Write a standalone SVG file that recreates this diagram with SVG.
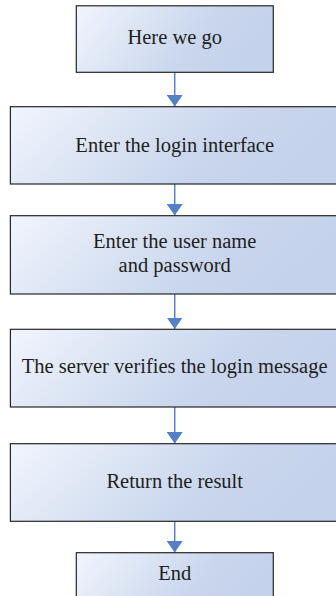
<svg xmlns="http://www.w3.org/2000/svg" width="336" height="596" viewBox="0 0 336 596">
<defs>
<linearGradient id="g" x1="0" y1="0" x2="1" y2="0.25">
<stop offset="0" stop-color="#f1f5fd"/>
<stop offset="0.7" stop-color="#c9d6ed"/>
<stop offset="1" stop-color="#c4d2eb"/>
</linearGradient>
<marker id="ah" markerUnits="userSpaceOnUse" markerWidth="11.5" markerHeight="16" refX="11.5" refY="8" orient="auto">
<path d="M0,0 L11.5,8 L0,16 Z" fill="#5580c6"/>
</marker>
<style>
.box{fill:url(#g);stroke:#262626;stroke-width:1.2}
.t{font-family:"Liberation Serif","Times New Roman",serif;font-size:20.5px;fill:#1e1e1e;text-anchor:middle}
.c{stroke:#5580c6;stroke-width:1.5;fill:none;marker-end:url(#ah)}
</style>
</defs>
<g id="connectors">
<line class="c" x1="174.7" y1="72.3" x2="174.7" y2="106.5"/>
<line class="c" x1="174.7" y1="184" x2="174.7" y2="215.5"/>
<line class="c" x1="174.7" y1="294" x2="174.7" y2="329"/>
<line class="c" x1="174.7" y1="407" x2="174.7" y2="443.5"/>
<line class="c" x1="174.7" y1="521.3" x2="174.7" y2="552.5"/>
</g>
<g id="n1">
<rect class="box" x="76.3" y="5.8" width="197" height="66.5"/>
<text class="t" x="174.7" y="43.5">Here we go</text>
</g>
<g id="n2">
<rect class="box" x="10.4" y="106.7" width="328.6" height="77.3"/>
<text class="t" x="174.7" y="151.7">Enter the login interface</text>
</g>
<g id="n3">
<rect class="box" x="10.4" y="215.7" width="328.6" height="78.3"/>
<text class="t" x="174.7" y="247.7">Enter the user name</text>
<text class="t" x="174.7" y="272.3">and password</text>
</g>
<g id="n4">
<rect class="box" x="10.4" y="329.3" width="328.6" height="77.7"/>
<text class="t" x="174.7" y="372.7">The server verifies the login message</text>
</g>
<g id="n5">
<rect class="box" x="10.4" y="443.7" width="328.6" height="77.6"/>
<text class="t" x="174.7" y="488.3">Return the result</text>
</g>
<g id="n6">
<rect class="box" x="76.3" y="552.7" width="197" height="60"/>
<text class="t" x="174.7" y="580">End</text>
</g>
</svg>
